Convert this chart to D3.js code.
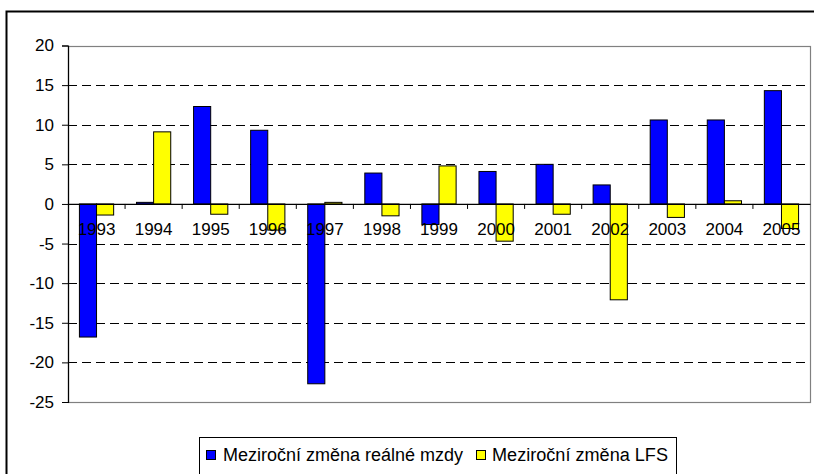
<!DOCTYPE html>
<html>
<head>
<meta charset="utf-8">
<script src="https://cdn.jsdelivr.net/npm/d3@7"></script>
<style>
  html, body { margin: 0; padding: 0; background: #fff; }
  svg { display: block; font-family: "Liberation Sans", Arial, sans-serif; }
</style>
</head>
<body>
<svg id="chart" width="814" height="474"></svg>
<script>
const years = ["1993","1994","1995","1996","1997","1998","1999","2000","2001","2002","2003","2004","2005"];
const seriesNames = ["Meziroční změna reálné mzdy", "Meziroční změna LFS"];
const wageValues = [-16.8, 0.2, 12.3, 9.3, -22.7, 3.9, -2.6, 4.1, 5.0, 2.4, 10.6, 10.6, 14.3];
const lfsValues  = [-1.4, 9.1, -1.3, -3.3, 0.2, -1.5, 4.8, -4.7, -1.3, -12.1, -1.7, 0.4, -3.1];
const yTicks = [20, 15, 10, 5, 0, -5, -10, -15, -20, -25];
const colors = ["#0000ff", "#ffff00"];

const svg = d3.select("#chart");

// outer chart frame (extends past right/bottom edges)
svg.append("rect")
  .attr("x", 6.5).attr("y", 11.5).attr("width", 900).attr("height", 900)
  .attr("fill", "#fff").attr("stroke", "#000").attr("stroke-width", 2);

const pLeft = 68, pRight = 810, pTop = 45.5, pBottom = 402;

const x = d3.scaleBand().domain(years).range([pLeft, pRight]).padding(0);
const xi = d3.scaleBand().domain(seriesNames).range([0, x.bandwidth()])
  .paddingInner(0).paddingOuter(0.667);
const y = d3.scaleLinear().domain([-25, 20]).range([pBottom, pTop]);

// dashed gridlines
svg.append("g").selectAll("line")
  .data(yTicks.filter(t => t !== 20 && t !== -25 && t !== 0))
  .join("line")
  .attr("x1", pLeft).attr("x2", pRight)
  .attr("y1", d => Math.round(y(d)) + 0.5).attr("y2", d => Math.round(y(d)) + 0.5)
  .attr("stroke", "#000").attr("stroke-width", 1).attr("stroke-dasharray", "9,5");

// plot area border (grey)
svg.append("rect")
  .attr("x", pLeft + 0.5).attr("y", Math.round(pTop) + 0.5)
  .attr("width", pRight - pLeft).attr("height", Math.round(pBottom) - Math.round(pTop))
  .attr("fill", "none").attr("stroke", "#808080").attr("stroke-width", 1.2);

// bars
const data = years.map((yr, i) => ({ year: yr, values: [wageValues[i], lfsValues[i]] }));
const groups = svg.append("g").selectAll("g")
  .data(data).join("g")
  .attr("transform", d => `translate(${x(d.year)},0)`);
groups.selectAll("rect")
  .data(d => d.values.map((v, j) => ({ v, s: seriesNames[j], j })))
  .join("rect")
  .attr("x", d => xi(d.s))
  .attr("width", xi.bandwidth())
  .attr("y", d => y(Math.max(0, d.v)))
  .attr("height", d => Math.abs(y(d.v) - y(0)))
  .attr("fill", d => colors[d.j])
  .attr("stroke", "#000").attr("stroke-width", 1);

// y axis
const yAxis = d3.axisLeft(y).tickValues(yTicks).tickSize(6).tickPadding(8).tickFormat(d3.format("d"));
const yg = svg.append("g").attr("transform", `translate(${pLeft},0)`).call(yAxis);
yg.select(".domain").attr("stroke", "#000").attr("stroke-width", 1.2);
yg.selectAll(".tick line").attr("stroke", "#000");
yg.selectAll(".tick text").attr("font-size", 17).attr("fill", "#000")
  .attr("font-family", "Liberation Sans, Arial, sans-serif")
  .text(d => d < 0 ? "-" + Math.abs(d) : d);

// x axis at zero
const xAxis = d3.axisBottom(x).tickSize(0).tickPadding(19);
const xg = svg.append("g").attr("transform", `translate(0,${y(0)})`).call(xAxis);
xg.select(".domain").attr("stroke", "#000").attr("stroke-width", 1.2);
xg.selectAll(".tick text").attr("font-size", 17).attr("fill", "#000")
  .attr("font-family", "Liberation Sans, Arial, sans-serif");
// category boundary tick marks
svg.append("g").selectAll("line")
  .data(years.slice(1))
  .join("line")
  .attr("x1", d => x(d)).attr("x2", d => x(d))
  .attr("y1", y(0)).attr("y2", y(0) + 5)
  .attr("stroke", "#000").attr("stroke-width", 1);

// legend
const lg = svg.append("g");
lg.append("rect").attr("x", 199.5).attr("y", 437.5).attr("width", 477).attr("height", 40)
  .attr("fill", "#fff").attr("stroke", "#000").attr("stroke-width", 1);
const legendItems = [
  { name: seriesNames[0], sx: 206, tx: 223, len: 240 },
  { name: seriesNames[1], sx: 476, tx: 492, len: 176 }
];
legendItems.forEach((it, j) => {
  lg.append("rect").attr("x", it.sx + 0.5).attr("y", 450.5).attr("width", 9).attr("height", 9)
    .attr("fill", colors[j]).attr("stroke", "#000").attr("stroke-width", 1);
  lg.append("text").attr("x", it.tx).attr("y", 461)
    .attr("font-size", 18).attr("fill", "#000")
    .attr("textLength", it.len).attr("lengthAdjust", "spacingAndGlyphs")
    .text(it.name);
});
</script>
</body>
</html>
